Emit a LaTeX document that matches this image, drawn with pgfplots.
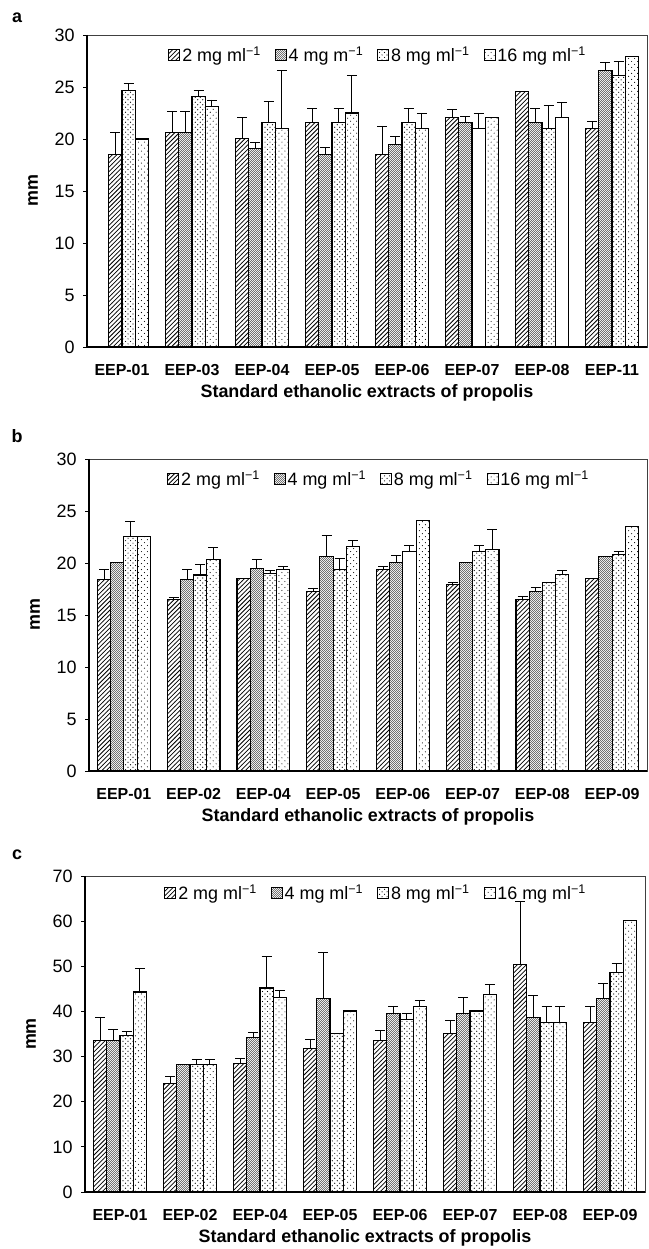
\documentclass[border=0pt]{standalone}
\usepackage{fontspec}
\setmainfont{Liberation Sans}
\usepackage{pgfplots}
\usepackage{pgfplotstable}
\pgfplotsset{compat=1.18}
\usetikzlibrary{patterns}

\pgfdeclarepatternformonly{hatchA}{\pgfqpoint{-1pt}{-1pt}}{\pgfqpoint{5.5pt}{5.5pt}}{\pgfqpoint{4.5pt}{4.5pt}}{%
  \pgfsetlinewidth{0.75pt}\pgfpathmoveto{\pgfqpoint{-0.1pt}{-0.1pt}}\pgfpathlineto{\pgfqpoint{4.6pt}{4.6pt}}\pgfusepath{stroke}}
\pgfdeclarepatternformonly{checkB}{\pgfpointorigin}{\pgfqpoint{2.4pt}{2.4pt}}{\pgfqpoint{2.4pt}{2.4pt}}{%
  \pgfpathrectangle{\pgfpointorigin}{\pgfqpoint{1.1pt}{1.1pt}}\pgfpathrectangle{\pgfqpoint{1.2pt}{1.2pt}}{\pgfqpoint{1.1pt}{1.1pt}}\pgfusepath{fill}}
\pgfdeclarepatternformonly{dotsC}{\pgfqpoint{-1pt}{-1pt}}{\pgfqpoint{6pt}{6pt}}{\pgfqpoint{5pt}{5pt}}{%
  \pgfpathcircle{\pgfqpoint{1pt}{1pt}}{0.6pt}\pgfpathcircle{\pgfqpoint{3.5pt}{3.5pt}}{0.6pt}\pgfusepath{fill}}
\pgfdeclarepatternformonly{dotsD}{\pgfqpoint{-1pt}{-1pt}}{\pgfqpoint{7pt}{7pt}}{\pgfqpoint{6pt}{6pt}}{%
  \pgfpathcircle{\pgfqpoint{1pt}{1pt}}{0.55pt}\pgfpathcircle{\pgfqpoint{4pt}{4pt}}{0.55pt}\pgfusepath{fill}}

\pgfplotsset{
  panel/.style={
    scale only axis, height=312bp,
    xmin=-0.5, xmax=7.5, ymin=0,
    xtick={0,...,7},
    xtick style={draw=none},
    ytick pos=left, tick align=outside,
    major tick length=4bp,
    ytick style={line width=0.8bp, black},
    axis line style={line width=0.7bp, black!75},
    /pgf/number format/assume math mode=true,
    yticklabel style={font=\fontsize{18}{20}\selectfont, xshift=-5bp},
    xticklabel style={font=\bfseries\fontsize{16}{18}\selectfont, anchor=center, yshift=-19bp},
    every axis y label/.style={at={(axis description cs:0,0.5)}, xshift=-54bp, rotate=90, anchor=center, font=\bfseries\fontsize{18}{20}\selectfont},
    every axis x label/.style={at={(axis description cs:0.5,0)}, anchor=center, yshift=-46bp, font=\bfseries\fontsize{18}{20}\selectfont},
    ylabel={mm}, xlabel={Standard ethanolic extracts of propolis},
    legend style={at={(axis description cs:0.52,0.936)}, anchor=center, draw=none, fill=none,
      legend columns=-1, font=\fontsize{18}{20}\selectfont,
      /tikz/every even column/.append style={column sep=12bp}, inner sep=0pt},
    error bars/y dir=plus, error bars/y explicit,
    error bars/error bar style={line width=0.9bp, black},
    error bars/error mark options={line width=0.9bp, black, mark size=5bp, rotate=90},
    after end axis/.code={\draw[line width=1.6bp, black] (rel axis cs:0,1) -- (rel axis cs:0,0) -- (rel axis cs:1,0);},
  },
  barstyle/.style={ybar, bar width=0.18929, bar shift=0pt, draw=black, line width=1.1bp,
    legend image code/.code={\draw[##1, line width=0.8bp] (0bp,-5.5bp) rectangle (11bp,5.5bp);}},
  s2/.style={barstyle, pattern=hatchA},
  s4/.style={barstyle, pattern=checkB, pattern color=black!55},
  s8/.style={barstyle, pattern=dotsC},
  s16/.style={barstyle, pattern=dotsD},
}

\pgfplotstableread{
x a2 e2 a4 e4 a8 e8 a16 e16
0 nan nan nan nan 24.65 0.65 20.0 0
1 20.6 2.0 20.6 2.0 24.05 0.65 23.1 0.65
2 20.05 2.05 19.1 0.6 21.55 2.05 21.0 5.6
3 21.55 1.35 18.55 0.65 21.55 1.35 22.5 3.6
4 18.55 2.7 19.5 0.7 21.55 1.35 21.0 1.5
5 22.1 0.7 21.55 0.65 nan nan 22.1 0
6 24.6 0 21.55 1.35 21.0 2.2 nan nan
7 21.0 0.7 26.55 0.8 26.1 1.35 27.9 0
}\dataA

\pgfplotstableread{
x a2 e2 a4 e4 a8 e8 a16 e16
0 18.4 1.0 20.05 0 22.55 1.4 22.55 0
1 16.45 0.2 18.4 1.0 18.85 1.05 20.3 1.15
2 18.55 0 19.5 0.8 19.0 0.3 19.4 0.25
3 17.25 0.35 20.6 2.05 19.4 1.05 21.6 0.6
4 19.4 0.25 20.05 0.65 nan nan 24.1 0
5 17.9 0.25 20.05 0 21.1 0.6 21.3 1.9
6 16.45 0.35 17.3 0.35 18.1 0 18.9 0.35
7 18.55 0 20.6 0 20.85 0.25 23.55 0
}\dataB

\pgfplotstableread{
x a2 e2 a4 e4 a8 e8 a16 e16
0 33.6 5.1 33.6 2.3 34.6 0.9 44.3 5.3
1 24.1 1.5 28.2 0 28.2 1.2 28.2 1.2
2 28.5 1.0 34.2 1.2 45.2 7.0 43.0 1.6
3 31.7 2.1 42.8 10.3 35.1 0 40.1 0
4 33.6 2.2 39.5 1.5 38.2 1.3 41.1 1.3
5 35.2 2.8 39.5 3.5 40.1 0 43.7 2.2
6 50.3 14.0 38.6 5.0 37.6 3.5 37.6 3.5
7 37.6 3.5 42.8 3.3 48.7 1.9 60.1 0
}\dataC

\begin{document}
\begin{tikzpicture}
\path[use as bounding box] (0,0) rectangle (649bp,1249bp);

\node[font=\bfseries\fontsize{18}{20}\selectfont] at (17bp,1231bp) {a};
\node[font=\bfseries\fontsize{18}{20}\selectfont] at (17bp,813bp) {b};
\node[font=\bfseries\fontsize{18}{20}\selectfont] at (17bp,394bp) {c};

% panel a
\begin{axis}[panel, width=560bp, at={(87bp,902bp)}, anchor=south west,
  ymax=30, ytick={0,5,...,30},
  xticklabels={EEP-01,EEP-03,EEP-04,EEP-05,EEP-06,EEP-07,EEP-08,EEP-11}]
\addplot[s2] table[x expr=\thisrow{x}-0.28393, y=a2, y error=e2] {\dataA};
\addlegendentry{2 mg ml\textsuperscript{−1}}
\addplot[s4] table[x expr=\thisrow{x}-0.09464, y=a4, y error=e4] {\dataA};
\addlegendentry{4 mg m\textsuperscript{−1}}
\addplot[s8] table[x expr=\thisrow{x}+0.09464, y=a8, y error=e8] {\dataA};
\addlegendentry{8 mg ml\textsuperscript{−1}}
\addplot[s16] table[x expr=\thisrow{x}+0.28393, y=a16, y error=e16] {\dataA};
\addlegendentry{16 mg ml\textsuperscript{−1}}
\addplot[s2, forget plot] coordinates {(-0.09464,18.55) +- (0,2.1)};
\addplot[barstyle, fill=white, forget plot] coordinates {(5.09464,21.0) +- (0,1.5)};
\addplot[barstyle, fill=white, forget plot] coordinates {(6.28393,22.1) +- (0,1.4)};
\end{axis}

% panel b
\begin{axis}[panel, width=558bp, at={(89bp,478bp)}, anchor=south west,
  ymax=30, ytick={0,5,...,30},
  xticklabels={EEP-01,EEP-02,EEP-04,EEP-05,EEP-06,EEP-07,EEP-08,EEP-09}]
\addplot[s2] table[x expr=\thisrow{x}-0.28393, y=a2, y error=e2] {\dataB};
\addlegendentry{2 mg ml\textsuperscript{−1}}
\addplot[s4] table[x expr=\thisrow{x}-0.09464, y=a4, y error=e4] {\dataB};
\addlegendentry{4 mg ml\textsuperscript{−1}}
\addplot[s8] table[x expr=\thisrow{x}+0.09464, y=a8, y error=e8] {\dataB};
\addlegendentry{8 mg ml\textsuperscript{−1}}
\addplot[s16] table[x expr=\thisrow{x}+0.28393, y=a16, y error=e16] {\dataB};
\addlegendentry{16 mg ml\textsuperscript{−1}}
\addplot[barstyle, fill=white, forget plot] coordinates {(4.09464,21.1) +- (0,0.6)};
\end{axis}

% panel c
\begin{axis}[panel, width=560bp, height=316bp, at={(85bp,57bp)}, anchor=south west,
  ymax=70, ytick={0,10,...,70},
  legend style={at={(axis description cs:0.52,0.946)}},
  xticklabels={EEP-01,EEP-02,EEP-04,EEP-05,EEP-06,EEP-07,EEP-08,EEP-09}]
\addplot[s2] table[x expr=\thisrow{x}-0.28393, y=a2, y error=e2] {\dataC};
\addlegendentry{2 mg ml\textsuperscript{−1}}
\addplot[s4] table[x expr=\thisrow{x}-0.09464, y=a4, y error=e4] {\dataC};
\addlegendentry{4 mg ml\textsuperscript{−1}}
\addplot[s8] table[x expr=\thisrow{x}+0.09464, y=a8, y error=e8] {\dataC};
\addlegendentry{8 mg ml\textsuperscript{−1}}
\addplot[s16] table[x expr=\thisrow{x}+0.28393, y=a16, y error=e16] {\dataC};
\addlegendentry{16 mg ml\textsuperscript{−1}}
\end{axis}
\end{tikzpicture}
\end{document}
